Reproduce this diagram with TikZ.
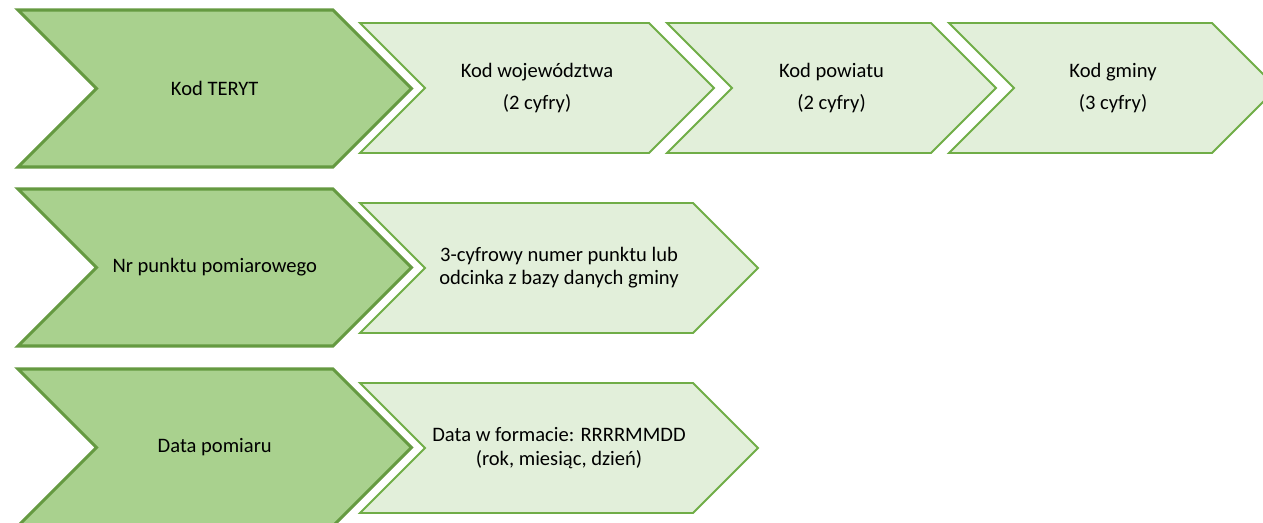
\documentclass[tikz,border=0pt]{standalone}
\usepackage{fontspec}
\setmainfont{Carlito}
\usepackage{tikz}
\usetikzlibrary{calc}

\definecolor{bigfill}{HTML}{A9D18E}
\definecolor{bigline}{HTML}{659A41}
\definecolor{smallfill}{HTML}{E2EFDA}
\definecolor{smallline}{HTML}{70AD47}

\tikzset{
  bigchev/.style={fill=bigfill, draw=bigline, line width=1.8pt, line join=miter},
  smallchev/.style={fill=smallfill, draw=smallline, line width=1.1pt, line join=miter},
  lbl/.style={align=center, font=\fontsize{11.7}{13.2}\selectfont}
}

% chevron: style, name, left x, body right x, top y, bottom y
\newcommand{\chev}[6]{%
  \pgfmathsetmacro{\chevh}{(#6-#5)/2}
  \draw[#1] (#3,#5) -- (#4,#5) -- ({#4+\chevh},{#5+\chevh}) -- (#4,#6)
    -- (#3,#6) -- ({#3+\chevh},{#5+\chevh}) -- cycle;
  \coordinate (#2) at ({(#3+#4+\chevh)/2},{#5+\chevh});
}

\begin{document}
\begin{tikzpicture}[x=0.02cm, y=-0.02cm]
\useasboundingbox (0,0) rectangle (1263,523);
\clip (0,0) rectangle (1263,523);

\chev{bigchev}{c1}{18}{333}{10}{167}
\chev{smallchev}{c2}{360}{649}{23}{153}
\chev{smallchev}{c3}{667}{931}{23}{153}
\chev{smallchev}{c4}{949}{1212}{23}{153}

\chev{bigchev}{c5}{18}{333}{189}{346}
\chev{smallchev}{c6}{360}{693}{203}{333}

\chev{bigchev}{c7}{18}{333}{369}{526}
\chev{smallchev}{c8}{360}{693}{383}{513}

\node[lbl] (teryt) at (c1) {Kod TERYT};
\node[lbl] (woj) at (c2) {Kod województwa\\[5.5pt](2 cyfry)};
\node[lbl] (pow) at (c3) {Kod powiatu\\[5.5pt](2 cyfry)};
\node[lbl] (gmi) at (c4) {Kod gminy\\[5.5pt](3 cyfry)};

\node[lbl] (nrpkt) at (c5) {Nr punktu pomiarowego};
\node[lbl] (numer) at (c6) {3-cyfrowy numer punktu lub\\odcinka z bazy danych gminy};

\node[lbl] (data) at (c7) {Data pomiaru};
\node[lbl] (format) at (c8) {Data w formacie: RRRRMMDD\\(rok, miesiąc, dzień)};
\end{tikzpicture}
\end{document}
